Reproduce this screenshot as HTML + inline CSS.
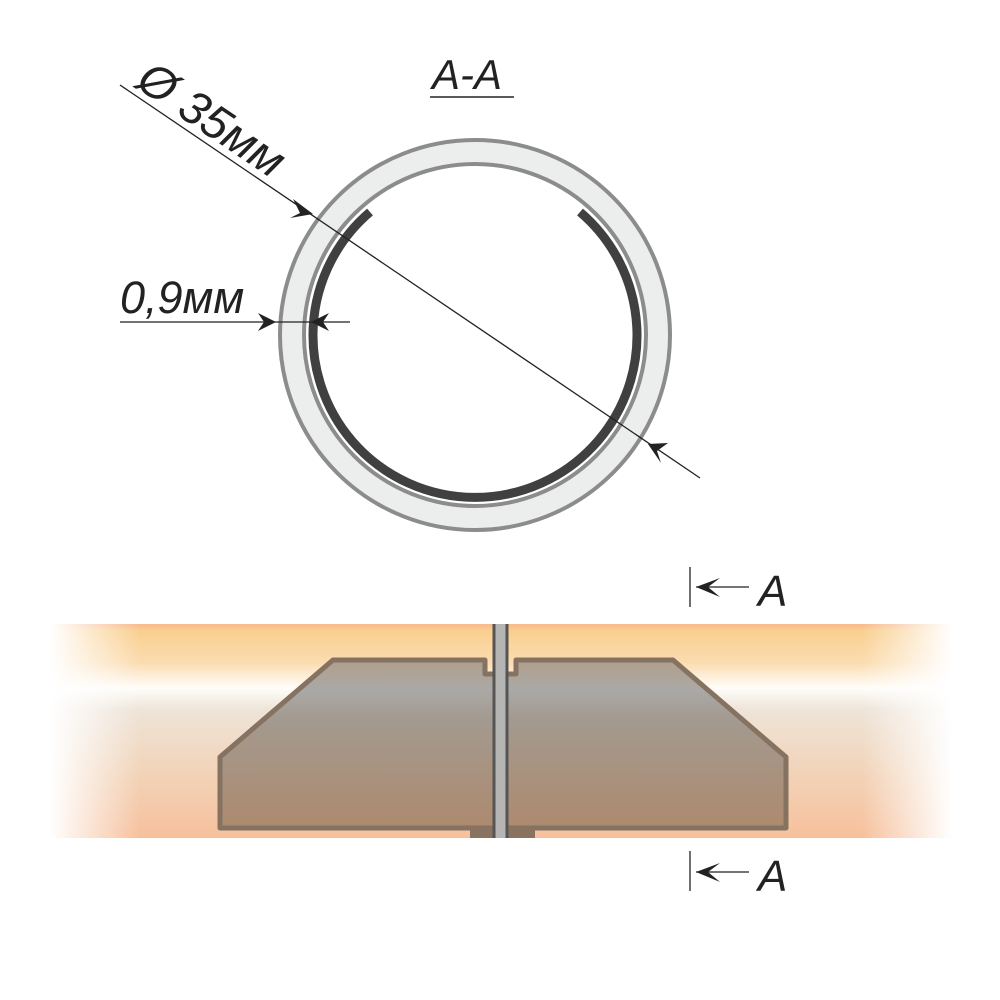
<!DOCTYPE html>
<html><head><meta charset="utf-8"><style>
html,body{margin:0;padding:0;background:#fff}
svg{display:block}
text{font-family:"Liberation Sans","DejaVu Sans",sans-serif;font-style:italic;fill:#222}
</style></head><body>
<svg width="1000" height="1000" viewBox="0 0 1000 1000" xmlns="http://www.w3.org/2000/svg">
<defs>
<linearGradient id="bandV" x1="0" y1="0" x2="0" y2="1">
<stop offset="0" stop-color="#f7b98f"/>
<stop offset="0.03" stop-color="#f9cf8f"/>
<stop offset="0.18" stop-color="#fbdcb0"/>
<stop offset="0.30" stop-color="#fffdfa"/>
<stop offset="0.40" stop-color="#eee4d8"/>
<stop offset="0.7" stop-color="#f2d3b8"/>
<stop offset="1" stop-color="#f7c09c"/>
</linearGradient>
<linearGradient id="fadeH" x1="0" y1="0" x2="1" y2="0">
<stop offset="0" stop-color="#fff" stop-opacity="1"/>
<stop offset="0.1" stop-color="#fff" stop-opacity="0"/>
<stop offset="0.9" stop-color="#fff" stop-opacity="0"/>
<stop offset="1" stop-color="#fff" stop-opacity="1"/>
</linearGradient>
<linearGradient id="body" x1="0" y1="0" x2="0" y2="1">
<stop offset="0" stop-color="#b19e8c"/>
<stop offset="0.18" stop-color="#aaa9a6"/>
<stop offset="0.35" stop-color="#a39a90"/>
<stop offset="1" stop-color="#ad8a6e"/>
</linearGradient>
</defs>

<rect x="50" y="624" width="902" height="214" fill="url(#bandV)"/>
<rect x="50" y="624" width="902" height="214" fill="url(#fadeH)"/>

<path d="M333,660 L485,660 L485,674 L516,674 L516,660 L673,660 L786,757 L786,828 L220,828 L220,757 Z" fill="url(#body)" stroke="#857260" stroke-width="5" stroke-linejoin="round"/>
<rect x="470" y="828" width="65" height="10" fill="#8a7260"/>
<rect x="494" y="624" width="13" height="214" fill="#b5b6b4"/>
<line x1="494" y1="624" x2="494" y2="838" stroke="#555" stroke-width="3"/>
<line x1="507" y1="624" x2="507" y2="838" stroke="#555" stroke-width="3"/>

<circle cx="475" cy="335" r="184" fill="none" stroke="#eceeed" stroke-width="22"/>
<circle cx="475" cy="335" r="195" fill="none" stroke="#8c8c8c" stroke-width="4"/>
<circle cx="475" cy="335" r="171" fill="none" stroke="#8c8c8c" stroke-width="4"/>
<path d="M370,212 A162,162 0 1 0 580,212" fill="none" stroke="#404040" stroke-width="9"/>

<line x1="120" y1="85" x2="700" y2="478" stroke="#222" stroke-width="1.3"/>
<path d="M313,214 L293,199 L300,213 L290,218 Z" fill="#222"/>
<path d="M648,444 L668,443 L657,451 L661,463 Z" fill="#222"/>
<text x="0" y="0" font-size="47" transform="translate(134,86) rotate(34)">Ø 35мм</text>

<line x1="120" y1="322" x2="350" y2="322" stroke="#222" stroke-width="1.3"/>
<path d="M276,322 L258,313 L264,322 L258,331 Z" fill="#222"/>
<path d="M311,322 L329,313 L323,322 L329,331 Z" fill="#222"/>
<text x="120" y="313" font-size="45">0,9мм</text>

<text x="432" y="89" font-size="42">A-A</text>
<line x1="430" y1="97" x2="514" y2="97" stroke="#222" stroke-width="1.5"/>

<g stroke="#222" stroke-width="1.3" fill="none">
<line x1="690" y1="567" x2="690" y2="607"/>
<line x1="696" y1="587" x2="749" y2="587"/>
<line x1="690" y1="851" x2="690" y2="891"/>
<line x1="696" y1="872" x2="749" y2="872"/>
</g>
<path d="M696,587 L720,578 L708,587 L720,597 Z" fill="#222"/>
<path d="M696,872 L720,863 L708,872 L720,882 Z" fill="#222"/>
<text x="758" y="606" font-size="44">A</text>
<text x="758" y="891" font-size="44">A</text>
</svg>
</body></html>
